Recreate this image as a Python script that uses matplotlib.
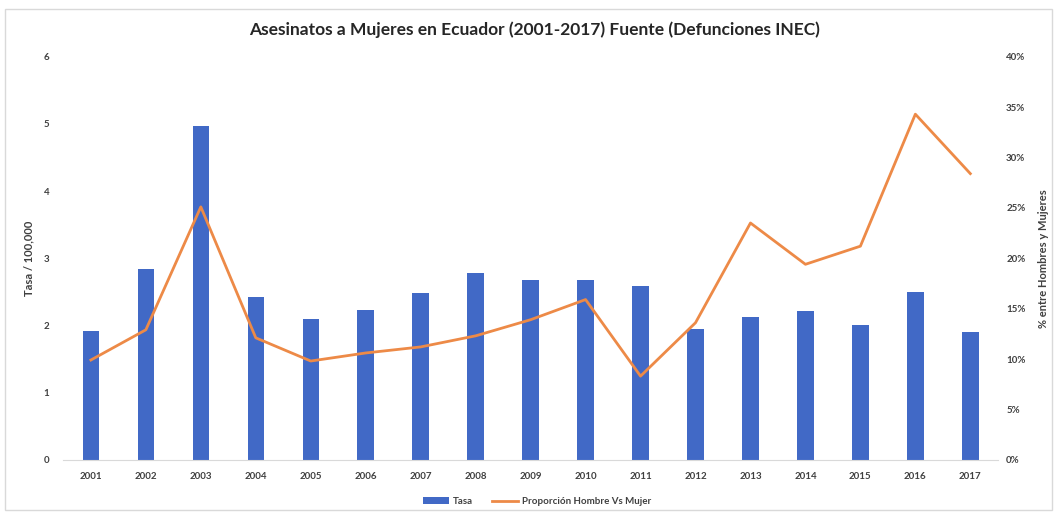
import matplotlib
matplotlib.use("Agg")
import matplotlib.pyplot as plt
from matplotlib.patches import Rectangle
from matplotlib.ticker import FuncFormatter, MultipleLocator

plt.rcParams['font.family'] = ['Lato', 'DejaVu Sans']

years = ["2001", "2002", "2003", "2004", "2005", "2006", "2007", "2008", "2009",
         "2010", "2011", "2012", "2013", "2014", "2015", "2016", "2017"]
tasa = [1.91, 2.84, 4.97, 2.43, 2.09, 2.23, 2.48, 2.78, 2.67,
        2.67, 2.59, 1.95, 2.12, 2.21, 2.00, 2.50, 1.90]
proporcion = [9.9, 12.9, 25.1, 12.1, 9.8, 10.6, 11.2, 12.3, 13.9,
              15.9, 8.3, 13.6, 23.5, 19.4, 21.2, 34.3, 28.4]

bar_color = "#4169C6"
line_color = "#ED8A47"
text_color = "#404040"

fig = plt.figure(figsize=(10.57, 5.16), dpi=100)
fig.patches.append(Rectangle((0.005, 0.012), 0.99, 0.97, transform=fig.transFigure,
                             fill=False, edgecolor="#D9D9D9", lw=1.0))

ax = fig.add_axes([0.060, 0.109, 0.884, 0.781])
x = list(range(len(years)))
bars = ax.bar(x, tasa, width=0.3, color=bar_color, label="Tasa", zorder=2)
ax.set_ylim(0, 6)
ax.set_xlim(-0.5, len(years) - 0.5)
ax.yaxis.set_major_locator(MultipleLocator(1))
ax.set_xticks(x)
ax.set_xticklabels(years)
ax.set_ylabel("Tasa / 100,000", fontsize=8, fontweight="bold", color=text_color, labelpad=7)

ax2 = ax.twinx()
ln, = ax2.plot(x, proporcion, color=line_color, lw=2.0, label="Proporción Hombre Vs Mujer", zorder=3)
ax2.set_ylim(0, 40)
ax2.yaxis.set_major_locator(MultipleLocator(5))
ax2.yaxis.set_major_formatter(FuncFormatter(lambda v, p: f"{v:.0f}%"))
ax2.set_ylabel("% entre Hombres y Mujeres", fontsize=8, fontweight="bold", color=text_color,
               rotation=90, labelpad=9)

for a in (ax, ax2):
    for s in a.spines.values():
        s.set_visible(False)
    a.tick_params(length=0, labelsize=7, colors=text_color)
    for lbl in a.get_xticklabels() + a.get_yticklabels():
        lbl.set_fontweight("bold")
ax.spines["bottom"].set_visible(True)
ax.spines["bottom"].set_color("#D9D9D9")
ax.tick_params(axis="x", pad=9)
ax.tick_params(axis="y", pad=10)
ax2.tick_params(axis="y", pad=6)

fig.suptitle("Asesinatos a Mujeres en Ecuador (2001-2017) Fuente (Defunciones INEC)",
             x=0.506, y=0.958, fontsize=12.5, fontweight="bold", color="#262626")

fig.legend(handles=[bars, ln], labels=["Tasa", "Proporción Hombre Vs Mujer"],
           loc="center", bbox_to_anchor=(0.508, 0.028), ncol=2, frameon=False,
           prop={"size": 7, "weight": "bold"}, handlelength=2.7, handletextpad=0.35,
           columnspacing=2.0, labelcolor=text_color)

fig.savefig("out.png", dpi=100, facecolor="white")
